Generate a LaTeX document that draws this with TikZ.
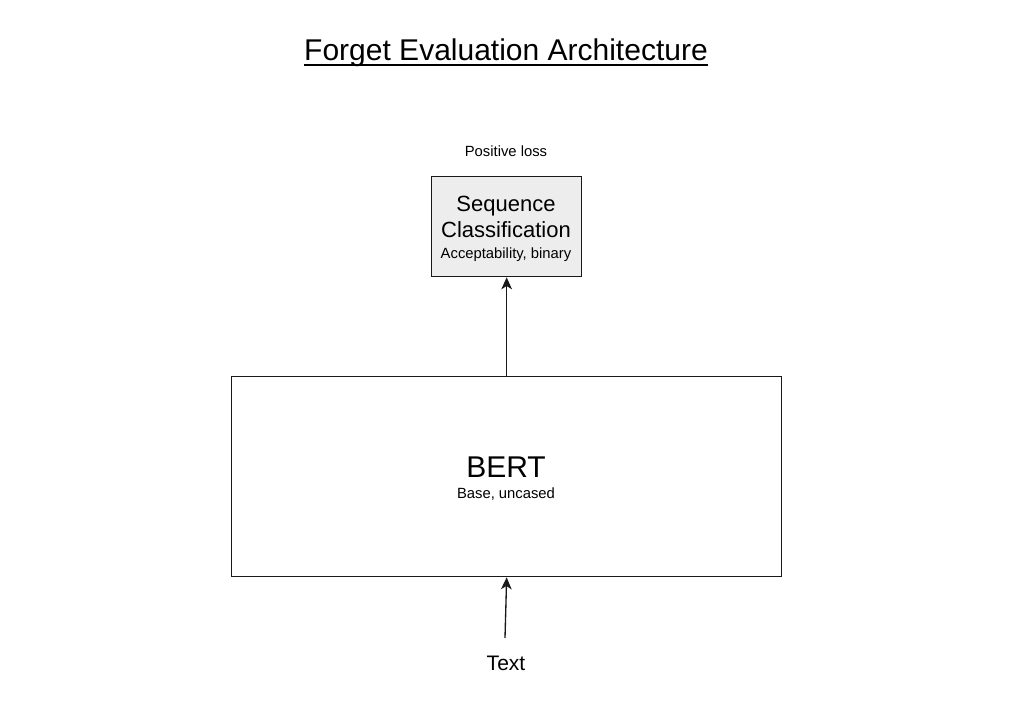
\documentclass[tikz,border=0pt]{standalone}
\usepackage{fontspec}
\setmainfont{Liberation Sans}
\usetikzlibrary{arrows.meta,calc}
\begin{document}
\begin{tikzpicture}[x=0.75pt,y=-0.75pt,
  boxstyle/.style={draw=black!90,line width=1pt,inner sep=0pt,anchor=north west},
  txt/.style={inner sep=0pt,anchor=base,text=black},
  big/.style={txt,font=\fontsize{22.5pt}{27pt}\selectfont},
  mid/.style={txt,font=\fontsize{16.5pt}{20pt}\selectfont},
  small/.style={txt,font=\fontsize{11.1pt}{13pt}\selectfont},
  arr/.style={-{Stealth[length=9pt,width=8pt,inset=2.5pt]},line width=1pt,black!90}]
\useasboundingbox (0,0) rectangle (1022,713);
\fill[white] (0,0) rectangle (1022,713);
% title
\node[big] (title) at (506,61) {Forget Evaluation Architecture};
\draw[line width=1.6pt] ($(title.base west)+(0,4)$) -- ($(title.base east)+(0,4)$);
% top box
\node[boxstyle,fill=black!7,minimum width=150*0.75pt,minimum height=100*0.75pt] (seq) at (431,176) {};
\node[small] (pos) at (506,156.5) {Positive loss};
\node[mid] (seqa) at (506,212) {Sequence};
\node[mid] (seqb) at (506,238) {Classification};
\node[small] (seqc) at (506,258.5) {Acceptability, binary};
% BERT box
\node[boxstyle,minimum width=550*0.75pt,minimum height=200*0.75pt] (bert) at (231,376) {};
\node[big] (berta) at (506,477) {BERT};
\node[small] (bertb) at (506,498.5) {Base, uncased};
% input
\node[mid,font=\fontsize{15.75pt}{19pt}\selectfont] (text) at (506,670.5) {Text};
\coordinate (tin) at (505,638);
% arrows
\draw[arr] (bert.north) -- (seq.south);
\draw[arr] (tin) -- (bert.south);
\end{tikzpicture}
\end{document}
